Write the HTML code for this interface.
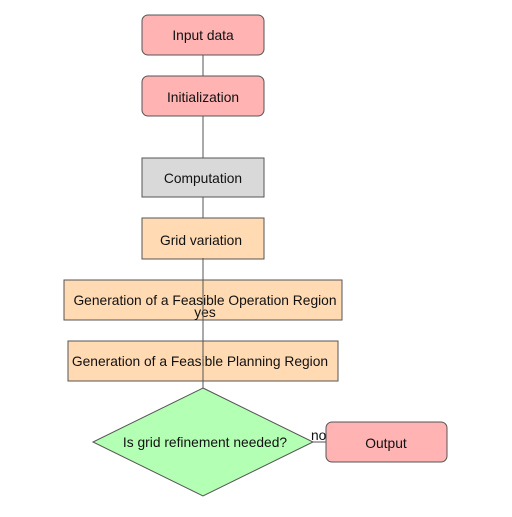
<!DOCTYPE html>
<html><head><style>body{margin:0;background:#fff}</style></head><body>
<svg width="512" height="512" xmlns="http://www.w3.org/2000/svg" font-family="Liberation Sans, sans-serif" font-size="13.8" fill="#111">
<line x1="203" y1="55" x2="203" y2="388" stroke="#555" stroke-width="1"/>
<line x1="313" y1="442" x2="326" y2="442" stroke="#555"/>
<rect x="142" y="15" width="122" height="40" rx="6" fill="#ffb3b3" stroke="#555"/>
<text x="203" y="40" text-anchor="middle">Input data</text>
<rect x="142" y="76" width="122" height="40" rx="6" fill="#ffb3b3" stroke="#555"/>
<text x="203" y="102" text-anchor="middle">Initialization</text>
<rect x="142" y="158" width="122" height="39" fill="#d9d9d9" stroke="#555"/>
<text x="203" y="183" text-anchor="middle">Computation</text>
<rect x="142" y="218" width="122" height="41" fill="#ffdab3" stroke="#555"/>
<text x="201" y="245" text-anchor="middle">Grid variation</text>
<rect x="64" y="280" width="278" height="40" fill="#ffdab3" stroke="#555"/>
<text x="205" y="305" text-anchor="middle">Generation of a Feasible Operation Region</text>
<text x="205" y="317" text-anchor="middle">yes</text>
<rect x="68" y="341" width="270" height="40" fill="#ffdab3" stroke="#555"/>
<text x="200" y="366" text-anchor="middle">Generation of a Feasible Planning Region</text>
<line x1="203" y1="258" x2="203" y2="388" stroke="#555"/>
<polygon points="203,388 313,442 203,496 93,442" fill="#b3ffb3" stroke="#555"/>
<text x="205" y="447" text-anchor="middle">Is grid refinement needed?</text>
<text x="311" y="440">no</text>
<rect x="326" y="422" width="121" height="40" rx="6" fill="#ffb3b3" stroke="#555"/>
<text x="386" y="448" text-anchor="middle">Output</text>
</svg>
</body></html>
